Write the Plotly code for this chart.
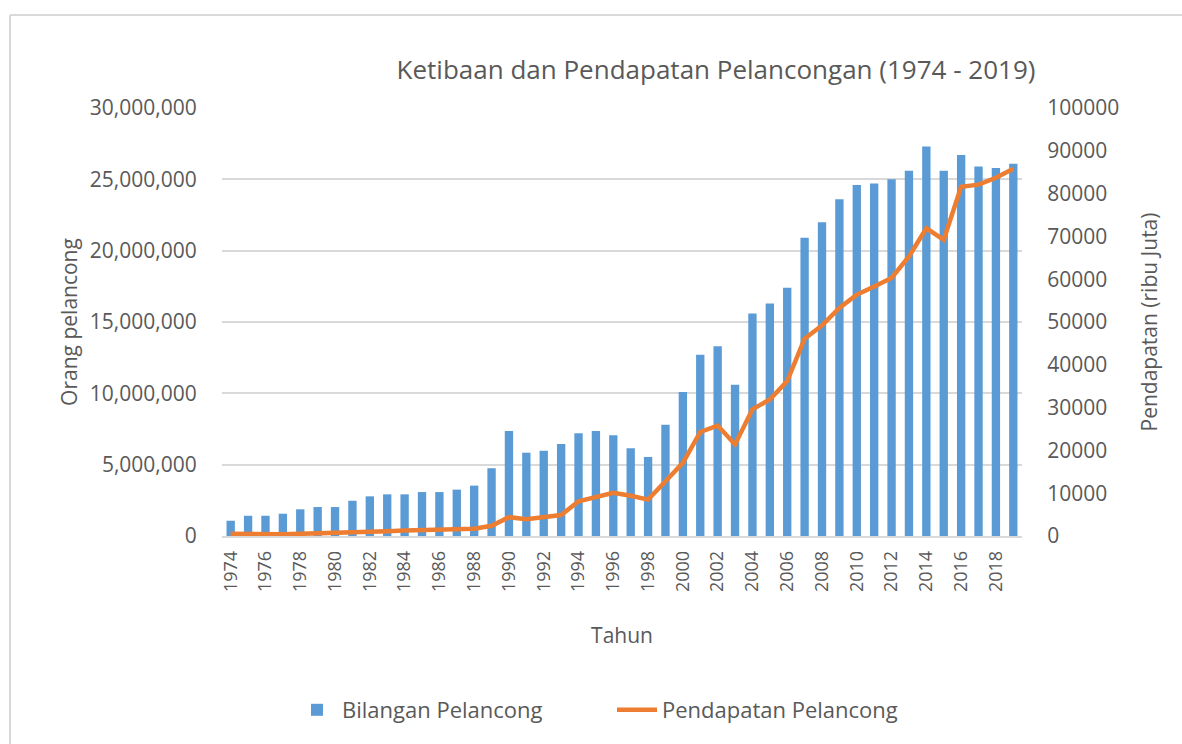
import plotly.graph_objects as go

years = list(range(1974, 2020))
bilangan = [1.07e6, 1.42e6, 1.42e6, 1.56e6, 1.87e6, 2.03e6, 2.03e6, 2.47e6, 2.78e6, 2.92e6,
            2.92e6, 3.08e6, 3.08e6, 3.25e6, 3.53e6, 4.75e6, 7.36e6, 5.84e6, 5.98e6, 6.45e6,
            7.2e6, 7.36e6, 7.06e6, 6.15e6, 5.54e6, 7.8e6, 10.1e6, 12.7e6, 13.3e6, 10.6e6,
            15.6e6, 16.3e6, 17.4e6, 20.9e6, 22.0e6, 23.6e6, 24.6e6, 24.7e6, 25.0e6, 25.6e6,
            27.3e6, 25.6e6, 26.7e6, 25.9e6, 25.8e6, 26.1e6]
pendapatan = [500, 400, 300, 400, 500, 600, 600, 900, 1000, 1100,
              1300, 1400, 1400, 1500, 1700, 2400, 4400, 3900, 4400, 4900,
              8100, 9200, 10100, 9400, 8500, 12800, 17100, 24300, 25800, 21400,
              29600, 31900, 36200, 46100, 49200, 53300, 56400, 58300, 60300, 65300,
              71900, 69200, 81600, 82100, 83700, 85800]
tick_years = list(range(1974, 2020, 2))

TXT = "#595959"
FONT = "Open Sans"

W, H = 1182, 744
# plot area in page pixels
PL, PT, PW, PH = 222, 108, 800, 428

fig = go.Figure()
fig.add_trace(go.Bar(x=years, y=bilangan, name="Bilangan Pelancong",
                     marker=dict(color="#5B9BD5", line=dict(width=0)), yaxis="y"))
fig.add_trace(go.Scatter(x=years, y=pendapatan, name="Pendapatan Pelancong", mode="lines",
                         line=dict(color="#ED7D31", width=4.5), yaxis="y2"))

fx0 = (10 - PL) / PW
fy1 = (PT + PH - 15) / PH

fig.update_layout(
    width=W, height=H,
    margin=dict(l=PL, r=W - PL - PW, t=PT, b=H - PT - PH),
    paper_bgcolor="white", plot_bgcolor="white",
    font=dict(family=FONT, color=TXT, size=18),
    bargap=0.52,
    showlegend=True,
    title=dict(text="Ketibaan dan Pendapatan Pelancongan (1974 - 2019)",
               x=716 / W, xanchor="center", y=1 - 70 / H, yanchor="middle",
               font=dict(family=FONT, size=26, color=TXT)),
    xaxis=dict(range=[1973.5, 2019.5], tickmode="array", tickvals=tick_years,
               ticktext=[str(y) for y in tick_years], tickangle=-90,
               showgrid=False, showline=True, linecolor="#D9D9D9", linewidth=1.5,
               ticks="outside", ticklen=6, tickcolor="rgba(0,0,0,0)",
               tickfont=dict(size=18, color=TXT),
               title=dict(text="Tahun", standoff=37, font=dict(size=21, color=TXT))),
    yaxis=dict(range=[0, 30e6], dtick=5e6, tickformat=",", showgrid=True,
               gridcolor="#D9D9D9", gridwidth=1.5, zeroline=False,
               ticks="outside", ticklen=20, tickcolor="rgba(0,0,0,0)",
               tickfont=dict(size=21, color=TXT),
               title=dict(text="Orang pelancong", standoff=6, font=dict(size=21, color=TXT))),
    yaxis2=dict(range=[0, 100000], dtick=10000, tickformat="d", overlaying="y", side="right",
                showgrid=False, zeroline=False,
                ticks="outside", ticklen=20, tickcolor="rgba(0,0,0,0)",
                tickfont=dict(size=21, color=TXT),
                title=dict(text="Pendapatan (ribu Juta)", standoff=24, font=dict(size=21, color=TXT))),
    legend=dict(orientation="h", xref="container", x=292 / W, xanchor="left",
                yref="container", y=1 - 710 / H, yanchor="middle",
                font=dict(size=22, color=TXT), itemwidth=40, tracegroupgap=0,
                entrywidthmode="pixels", entrywidth=265),
    shapes=[
        dict(type="line", xref="paper", yref="paper", x0=fx0, x1=(1400 - PL) / PW, y0=fy1, y1=fy1,
             line=dict(color="#D9D9D9", width=2), layer="below"),
        dict(type="line", xref="paper", yref="paper", x0=fx0, x1=fx0, y0=fy1, y1=(PT + PH - 1000) / PH,
             line=dict(color="#D9D9D9", width=2), layer="below"),
    ],
)

fig.write_html("out.html", config={"displayModeBar": False},
               post_script="document.body.style.margin='0';document.body.style.overflow='hidden';")
